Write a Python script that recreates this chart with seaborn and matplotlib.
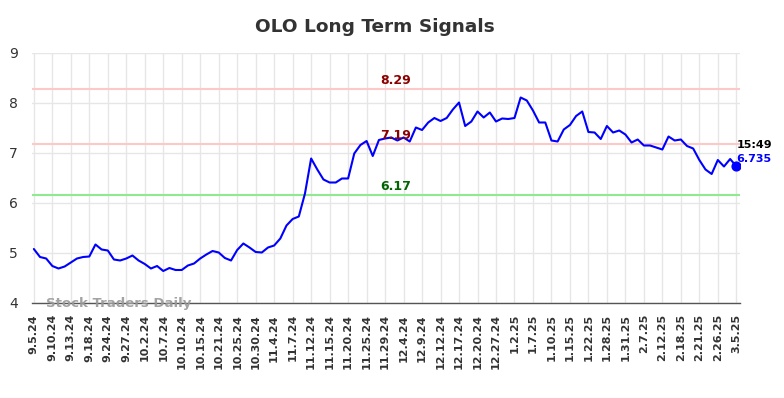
import numpy as np
import pandas as pd
import matplotlib
matplotlib.use("Agg")
import matplotlib.pyplot as plt
import seaborn as sns

# closing prices, one per trading session
prices = [5.08, 4.92, 4.89, 4.74, 4.69, 4.73, 4.81, 4.89, 4.92, 4.93,
          5.17, 5.07, 5.05, 4.87, 4.85, 4.89, 4.95, 4.85, 4.78, 4.69,
          4.74, 4.64, 4.70, 4.66, 4.66, 4.75, 4.79, 4.89, 4.97, 5.04,
          5.01, 4.90, 4.85, 5.06, 5.19, 5.11, 5.02, 5.01, 5.11, 5.15,
          5.29, 5.55, 5.68, 5.73, 6.19, 6.89, 6.67, 6.47, 6.41, 6.41,
          6.49, 6.49, 6.99, 7.16, 7.24, 6.94, 7.26, 7.29, 7.31, 7.25,
          7.31, 7.23, 7.51, 7.46, 7.61, 7.70, 7.64, 7.70, 7.87, 8.01,
          7.54, 7.63, 7.83, 7.71, 7.81, 7.63, 7.69, 7.68, 7.70, 8.11,
          8.05, 7.85, 7.61, 7.61, 7.25, 7.23, 7.47, 7.56, 7.74, 7.83,
          7.42, 7.41, 7.28, 7.54, 7.41, 7.45, 7.37, 7.21, 7.27, 7.15,
          7.15, 7.11, 7.07, 7.33, 7.25, 7.27, 7.14, 7.09, 6.86, 6.67,
          6.58, 6.86, 6.73, 6.88, 6.735]

tick_labels = ["9.5.24", "9.10.24", "9.13.24", "9.18.24", "9.24.24", "9.27.24",
               "10.2.24", "10.7.24", "10.10.24", "10.15.24", "10.21.24", "10.25.24",
               "10.30.24", "11.4.24", "11.7.24", "11.12.24", "11.15.24", "11.20.24",
               "11.25.24", "11.29.24", "12.4.24", "12.9.24", "12.12.24", "12.17.24",
               "12.20.24", "12.27.24", "1.2.25", "1.7.25", "1.10.25", "1.15.25",
               "1.22.25", "1.28.25", "1.31.25", "2.7.25", "2.12.25", "2.18.25",
               "2.21.25", "2.26.25", "3.5.25"]

upper_level = 8.29
mid_level = 7.19
lower_level = 6.17
last_time = "15:49"

df = pd.DataFrame({"idx": np.arange(len(prices)), "price": prices})

sns.set_style("whitegrid")
plt.rcParams['font.family'] = ['DejaVu Sans']

fig = plt.figure(figsize=(7.84, 3.98), dpi=100)
ax = fig.add_axes([32 / 784, 95 / 398, 708 / 784, 250 / 398])

# signal levels
ax.axhline(upper_level, color="#ffc8c8", lw=1.5, zorder=1)
ax.axhline(mid_level, color="#ffc8c8", lw=1.5, zorder=1)
ax.axhline(lower_level, color="#90e890", lw=1.5, zorder=1)

sns.lineplot(data=df, x="idx", y="price", color="blue", lw=1.5, ax=ax, zorder=3)
ax.scatter(df["idx"].iloc[-1], df["price"].iloc[-1], s=40, color="blue", zorder=4)

mid_x = 58.7
ax.text(mid_x, upper_level + 0.15, f"{upper_level:.2f}", color="#8b0000",
        fontsize=9, fontweight="bold", ha="center", va="center")
ax.text(mid_x, mid_level + 0.15, f"{mid_level:.2f}", color="#8b0000",
        fontsize=9, fontweight="bold", ha="center", va="center")
ax.text(mid_x, lower_level + 0.15, f"{lower_level:.2f}", color="#006400",
        fontsize=9, fontweight="bold", ha="center", va="center")

last_i = len(prices) - 1
ax.text(last_i, prices[-1] + 0.42, last_time, color="black", fontsize=8,
        fontweight="bold", ha="left", va="center")
ax.text(last_i, prices[-1] + 0.15, f"{prices[-1]:.3f}", color="blue", fontsize=8,
        fontweight="bold", ha="left", va="center")

ax.text(2, 4.0, "Stock Traders Daily", color="#999999", fontsize=9.5,
        fontweight="bold", ha="left", va="center", alpha=0.9, zorder=5)

ax.set_xlim(-0.3, 114.6)
ax.set_ylim(4, 9)
ax.set_yticks([4, 5, 6, 7, 8, 9])
ax.set_xticks(np.arange(0, len(prices), 3))
ax.set_xticklabels(tick_labels, rotation=90, fontsize=8, fontweight="bold", color="#333333")
ax.tick_params(axis="y", labelsize=10, colors="#333333", length=0, pad=10)
ax.tick_params(axis="x", length=0, pad=8)
ax.grid(True, color="#e6e6e6", lw=1)
ax.set_xlabel("")
ax.set_ylabel("")
for side in ["top", "right", "left"]:
    ax.spines[side].set_visible(False)
ax.spines["bottom"].set_color("#555555")
ax.spines["bottom"].set_linewidth(1)

fig.suptitle("OLO Long Term Signals", x=0.478, y=0.955, fontsize=13.3,
             fontweight="bold", color="#333333")

fig.savefig("out.png", dpi=100)
